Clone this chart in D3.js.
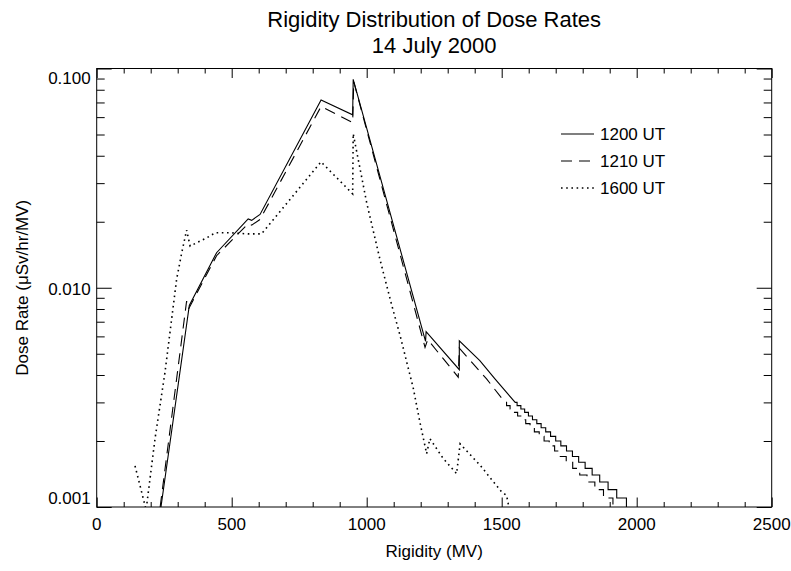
<!DOCTYPE html>
<html><head><meta charset="utf-8">
<script src="https://cdn.jsdelivr.net/npm/d3@7"></script>
<style>body{margin:0;background:#fff}svg{display:block}</style>
</head><body>
<svg id="c" width="791" height="571"></svg>
<script>
// ---------------- data ----------------
const seriesNames = ["1200 UT", "1210 UT", "1600 UT"];

// 1200 UT (solid): linear part + quantised (stepped) tail
const rig1200  = [238, 343, 444, 561, 574, 605, 831, 948, 950, 1218, 1220, 1343, 1343, 1419, 1475, 1550];
const dose1200 = [0.0010, 0.0083, 0.01445, 0.0206, 0.0203, 0.0216, 0.0719, 0.0615, 0.0893, 0.0057, 0.0063, 0.00423, 0.00573, 0.00465, 0.00384, 0.0030];
const stepRig1200  = [1557, 1571, 1585, 1599, 1614, 1630, 1646, 1663, 1681, 1700, 1719, 1740, 1762, 1785, 1809, 1835, 1863, 1894, 1926, 1962];
const stepDose1200 = [0.0029, 0.0028, 0.0027, 0.0026, 0.0025, 0.0024, 0.0023, 0.0022, 0.0021, 0.0020, 0.0019, 0.0018, 0.0017, 0.0016, 0.0015, 0.0014, 0.0013, 0.0012, 0.0011, 0.0010];

// 1210 UT (dashed)
const rig1210  = [235, 333, 340, 444, 561, 574, 605, 831, 948, 952, 1216, 1226, 1339, 1343, 1444, 1512];
const dose1210 = [0.0010, 0.0087, 0.0080, 0.0140, 0.0196, 0.0193, 0.0205, 0.0671, 0.0567, 0.0870, 0.00535, 0.0058, 0.00391, 0.0053, 0.00384, 0.0030];
const stepRig1210  = [1518, 1531, 1545, 1559, 1574, 1589, 1605, 1621, 1639, 1657, 1676, 1696, 1717, 1739, 1763, 1789, 1816, 1845, 1877, 1912];
const stepDose1210 = [0.0029, 0.0028, 0.0027, 0.0026, 0.0025, 0.0024, 0.0023, 0.0022, 0.0021, 0.0020, 0.0019, 0.0018, 0.0017, 0.0016, 0.0015, 0.0014, 0.0013, 0.0012, 0.0011, 0.0010];

// 1600 UT (dotted)
const rig1600  = [142, 183, 216, 253, 296, 315, 333, 346, 371, 408, 439, 494, 560, 610, 831, 948, 950, 1000, 1049, 1093, 1123, 1173, 1197, 1222, 1234, 1284, 1333, 1346, 1420, 1500, 1518, 1528];
const dose1600 = [0.00154, 0.00097, 0.00205, 0.00412, 0.01093, 0.01445, 0.01832, 0.01549, 0.01605, 0.0169, 0.01782, 0.01782, 0.0176, 0.0176, 0.0375, 0.0268, 0.0504, 0.0244, 0.01348, 0.0083, 0.0061, 0.00346, 0.00244, 0.00175, 0.00205, 0.00166, 0.00142, 0.00194, 0.00155, 0.00117, 0.00113, 0.00098];
const stepRig1600  = [];
const stepDose1600 = [];

const xTickValues = [0, 500, 1000, 1500, 2000, 2500];
const xTickLabels = ["0", "500", "1000", "1500", "2000", "2500"];
const yTickValues = [0.001, 0.01, 0.1];
const yTickLabels = ["0.001", "0.010", "0.100"];

// ---------------- layout ----------------
const W = 791, H = 571;
const L = 96.7, R = 771.7, T = 68.5, B = 507;
const FONT = "'Liberation Sans', Arial, Helvetica, sans-serif";

const svg = d3.select("#c");
const x = d3.scaleLinear().domain([0, 2500]).range([L, R]);
const y = d3.scaleLog().domain([0.001, 0.1]).range([B, T]);

svg.append("defs").append("clipPath").attr("id", "clip")
  .append("rect").attr("x", L).attr("y", T).attr("width", R - L).attr("height", B - T);

// build point lists (linear part then stepped tail)
function buildPoints(rs, ds, srs, sds) {
  const pts = rs.map((r, i) => [r, ds[i]]);
  let prev = ds[ds.length - 1];
  srs.forEach((r, i) => { pts.push([r, prev]); pts.push([r, sds[i]]); prev = sds[i]; });
  return pts;
}
const series = [
  {name: seriesNames[0], pts: buildPoints(rig1200, dose1200, stepRig1200, stepDose1200), dash: null, w: 1.1, cap: "butt"},
  {name: seriesNames[1], pts: buildPoints(rig1210, dose1210, stepRig1210, stepDose1210), dash: "11,7", w: 1.1, cap: "butt"},
  {name: seriesNames[2], pts: buildPoints(rig1600, dose1600, stepRig1600, stepDose1600), dash: "1.6,3.6", w: 1.6, cap: "butt"}
];

const line = d3.line().x(d => x(d[0])).y(d => y(d[1]));
const g = svg.append("g").attr("clip-path", "url(#clip)");
series.forEach(s => {
  g.append("path").datum(s.pts).attr("d", line)
    .attr("fill", "none").attr("stroke", "#000").attr("stroke-width", s.w)
    .attr("stroke-linecap", s.cap)
    .attr("stroke-dasharray", s.dash);
});

// ---------------- axes ----------------
const xMinor = d3.range(0, 2501, 100).filter(v => v % 500 !== 0);
const yMinor = [];
[0.001, 0.01].forEach(d => { for (let k = 2; k <= 9; k++) yMinor.push(d * k); });

function styleAxis(sel) {
  sel.select(".domain").remove();
  sel.selectAll("line").attr("stroke", "#000").attr("stroke-width", 1);
  sel.selectAll("text").remove();
}
svg.append("g").attr("transform", `translate(0,${B})`)
  .call(d3.axisBottom(x).tickValues(xTickValues).tickSizeInner(-9.5).tickSizeOuter(0)).call(styleAxis);
svg.append("g").attr("transform", `translate(0,${B})`)
  .call(d3.axisBottom(x).tickValues(xMinor).tickSizeInner(-5).tickSizeOuter(0)).call(styleAxis);
svg.append("g").attr("transform", `translate(0,${T})`)
  .call(d3.axisTop(x).tickValues(xTickValues).tickSizeInner(-9.5).tickSizeOuter(0)).call(styleAxis);
svg.append("g").attr("transform", `translate(0,${T})`)
  .call(d3.axisTop(x).tickValues(xMinor).tickSizeInner(-5).tickSizeOuter(0)).call(styleAxis);
svg.append("g").attr("transform", `translate(${L},0)`)
  .call(d3.axisLeft(y).tickValues(yTickValues).tickSizeInner(-15).tickSizeOuter(0)).call(styleAxis);
svg.append("g").attr("transform", `translate(${L},0)`)
  .call(d3.axisLeft(y).tickValues(yMinor).tickSizeInner(-8).tickSizeOuter(0)).call(styleAxis);
svg.append("g").attr("transform", `translate(${R},0)`)
  .call(d3.axisRight(y).tickValues(yTickValues).tickSizeInner(-15).tickSizeOuter(0)).call(styleAxis);
svg.append("g").attr("transform", `translate(${R},0)`)
  .call(d3.axisRight(y).tickValues(yMinor).tickSizeInner(-8).tickSizeOuter(0)).call(styleAxis);

svg.append("rect").attr("x", L).attr("y", T).attr("width", R - L).attr("height", B - T)
  .attr("fill", "none").attr("stroke", "#000").attr("stroke-width", 1);

// tick labels
svg.append("g").selectAll("text").data(xTickValues).join("text")
  .attr("x", d => x(d)).attr("y", B + 23)
  .attr("text-anchor", "middle").attr("font-family", FONT).attr("font-size", 17)
  .text((d, i) => xTickLabels[i]);
// IDL pulls the end labels of the log axis inward
const yLabelShift = [-9, 1, 10];
svg.append("g").selectAll("text").data(yTickValues).join("text")
  .attr("x", L - 6).attr("y", (d, i) => y(d) + yLabelShift[i])
  .attr("dy", "0.35em")
  .attr("text-anchor", "end").attr("font-family", FONT).attr("font-size", 17)
  .text((d, i) => yTickLabels[i]);

// titles
const title = svg.append("text").attr("text-anchor", "middle").attr("font-family", FONT).attr("font-size", 22);
title.append("tspan").attr("x", (L + R) / 2).attr("y", 27).text("Rigidity Distribution of Dose Rates");
title.append("tspan").attr("x", (L + R) / 2).attr("y", 53).text("14 July 2000");

svg.append("text").attr("x", (L + R) / 2).attr("y", 557)
  .attr("text-anchor", "middle").attr("font-family", FONT).attr("font-size", 17)
  .text("Rigidity (MV)");

svg.append("text").attr("transform", `translate(28,${(T + B) / 2}) rotate(-90)`)
  .attr("text-anchor", "middle").attr("font-family", FONT).attr("font-size", 17)
  .text("Dose Rate (μSv/hr/MV)");

// legend
const legY = [134, 161, 188];
const leg = svg.append("g");
series.forEach((s, i) => {
  leg.append("line").attr("x1", 561).attr("x2", 594).attr("y1", legY[i]).attr("y2", legY[i])
    .attr("stroke", "#000").attr("stroke-width", s.w).attr("stroke-dasharray", s.dash);
  leg.append("text").attr("x", 600).attr("y", legY[i]).attr("dy", "0.35em")
    .attr("font-family", FONT).attr("font-size", 17).text(s.name);
});
</script>
</body></html>
